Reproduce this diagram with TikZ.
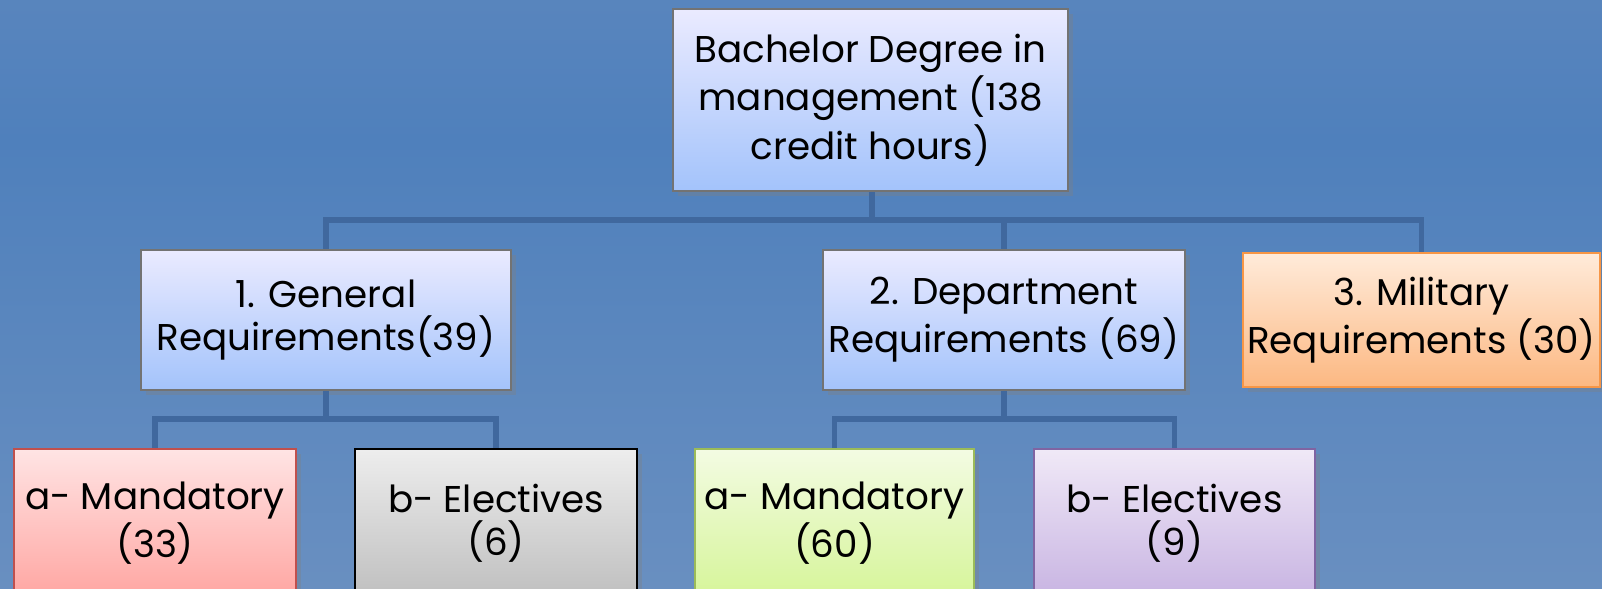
\documentclass[tikz,border=0pt]{standalone}
\usepackage{fontspec}
\setmainfont{Poppins}
\usetikzlibrary{shadows}

\definecolor{bgTop}{RGB}{108,143,192}
\definecolor{bgMid}{RGB}{79,128,188}
\definecolor{bgBot}{RGB}{122,153,195}
\definecolor{linkBlue}{RGB}{64,104,158}
\pgfdeclareverticalshading{bgshade}{100bp}{color(0bp)=(bgBot); color(63bp)=(bgMid); color(100bp)=(bgTop)}

\tikzset{
  box/.style={draw, line width=0.6pt, align=center, font=\fontsize{10.6}{12.2}\selectfont,
    inner sep=0pt, drop shadow={shadow xshift=1.5pt, shadow yshift=-1.5pt, opacity=0.35}},
  bluebox/.style={box, draw=black!55, top color=blue!8!white, bottom color={rgb,255:red,163;green,195;blue,251}},
  redbox/.style={box, draw={rgb,255:red,192;green,80;blue,77}, top color={rgb,255:red,255;green,228;blue,228}, bottom color={rgb,255:red,255;green,166;blue,162}},
  greybox/.style={box, draw=black, top color=black!7, bottom color=black!25},
  greenbox/.style={box, draw={rgb,255:red,155;green,187;blue,89}, top color={rgb,255:red,243;green,251;blue,227}, bottom color={rgb,255:red,214;green,245;blue,153}},
  purplebox/.style={box, draw={rgb,255:red,128;green,100;blue,162}, top color={rgb,255:red,240;green,233;blue,247}, bottom color={rgb,255:red,200;green,180;blue,226}},
  orangebox/.style={box, draw={rgb,255:red,247;green,150;blue,70}, top color={rgb,255:red,255;green,235;blue,218}, bottom color={rgb,255:red,252;green,184;blue,130}},
  link/.style={draw=linkBlue, line width=1.45pt}
}

\begin{document}
\begin{tikzpicture}[x=0.01cm, y=-0.01cm]
  \useasboundingbox (0,0) rectangle (1602,589);
  \clip (0,0) rectangle (1602,589);
  \shade[shading=bgshade] (0,0) rectangle (1602,589);

  % top level
  \node[bluebox, minimum width=3.95cm, minimum height=1.82cm] (root) at (870.5,100)
    {Bachelor Degree in\\ management (138\\ credit hours)};

  % second level
  \node[bluebox, minimum width=3.70cm, minimum height=1.40cm] (gen) at (326,320)
    {1. General\\ Requirements(39)};
  \node[bluebox, minimum width=3.62cm, minimum height=1.40cm] (dept) at (1004,320)
    {2. Department\\ Requirements (69)};
  \node[orangebox, minimum width=3.57cm, minimum height=1.34cm] (mil) at (1421.5,320)
    {3. Military\\ Requirements (30)};

  % third level
  \node[redbox, minimum width=2.82cm, minimum height=1.48cm] (genMan) at (155,523)
    {a- Mandatory\\ (33)};
  \node[greybox, minimum width=2.82cm, minimum height=1.48cm] (genElec) at (496,523)
    {b- Electives\\ (6)};
  \node[greenbox, minimum width=2.79cm, minimum height=1.48cm] (deptMan) at (834.5,523)
    {a- Mandatory\\ (60)};
  \node[purplebox, minimum width=2.81cm, minimum height=1.48cm] (deptElec) at (1174.5,523)
    {b- Electives\\ (9)};

  % connectors
  \coordinate (bus) at (872,220);
  \coordinate (genBus) at (326,419);
  \coordinate (deptBus) at (1004,419);
  \path[link] (root.south -| bus) -- (bus);
  \path[link] (gen.north) |- (bus) -| (mil.north);
  \path[link] (dept.north) -- (dept.north |- bus);
  \path[link] (gen.south) -- (genBus);
  \path[link] (genMan.north) |- (genBus) -| (genElec.north);
  \path[link] (dept.south) -- (deptBus);
  \path[link] (deptMan.north) |- (deptBus) -| (deptElec.north);
\end{tikzpicture}
\end{document}
